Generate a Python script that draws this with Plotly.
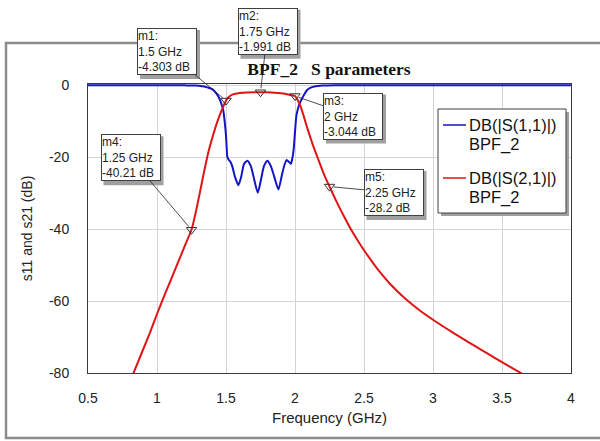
import plotly.graph_objects as go

# ---------------- data ----------------
freq_s11 = [0.5, 0.8, 1.0, 1.2, 1.275, 1.33, 1.37, 1.40, 1.43, 1.45, 1.47, 1.48, 1.49,
            1.50, 1.505, 1.51, 1.52, 1.53, 1.545, 1.565, 1.59, 1.61, 1.63, 1.655,
            1.68, 1.70, 1.73, 1.755, 1.775, 1.80, 1.825, 1.85, 1.88, 1.905, 1.925,
            1.94, 1.955, 1.97, 1.98, 1.99, 2.0, 2.01, 2.02, 2.035, 2.05, 2.07, 2.085,
            2.11, 2.14, 2.2, 2.3, 2.5, 3.0, 3.5, 4.0]
db_s11 = [-0.02, -0.03, -0.05, -0.08, -0.12, -0.35, -0.7, -1.1, -2.3, -3.6, -5.6, -7.0, -10.0,
          -14.0, -17.5, -20.0, -20.8, -21.2, -22.5, -25.5, -27.8, -25.5, -22.0, -21.0,
          -22.5, -25.5, -29.9, -26.0, -22.5, -21.0, -22.5, -25.5, -29.0, -25.0, -22.0,
          -20.8, -21.3, -21.9, -20.5, -18.0, -13.0, -8.5, -6.8, -5.0, -3.8, -2.4, -1.5,
          -0.8, -0.4, -0.15, -0.07, -0.04, -0.03, -0.02, -0.02]

freq_s21 = [0.78, 0.83, 0.90, 0.95, 1.0, 1.05, 1.10, 1.15, 1.20, 1.25, 1.28, 1.31, 1.34,
            1.37, 1.40, 1.43, 1.46, 1.48, 1.50, 1.52, 1.55, 1.60, 1.65, 1.70, 1.75, 1.80,
            1.85, 1.90, 1.95, 2.0, 2.02, 2.04, 2.06, 2.08, 2.10, 2.13, 2.17, 2.21, 2.25,
            2.30, 2.35, 2.40, 2.45, 2.50, 2.55, 2.60, 2.70, 2.80, 2.90, 3.0, 3.1, 3.2, 3.3,
            3.4, 3.5, 3.6, 3.7]
db_s21 = [-84.6, -80.0, -73.4, -68.7, -63.6, -58.8, -54.2, -49.5, -44.8, -40.21, -35.5, -30.0, -24.3,
          -19.0, -14.8, -11.0, -7.8, -6.0, -4.303, -3.3, -2.6, -2.2, -2.05, -2.0, -1.991, -2.02,
          -2.12, -2.3, -2.6, -3.044, -4.2, -5.9, -8.2, -10.8, -13.2, -16.7, -20.8, -24.8, -28.2,
          -32.3, -36.1, -39.7, -42.9, -45.9, -48.6, -51.2, -55.7, -59.4, -62.5, -65.2, -67.7, -70.1, -72.4,
          -74.7, -77.0, -79.2, -81.4]

marker_names = ["m1", "m2", "m3", "m4", "m5"]
marker_freq = [1.5, 1.75, 2.0, 1.25, 2.25]
marker_db = [-4.303, -1.991, -3.044, -40.21, -28.2]
marker_freq_text = ["1.5 GHz", "1.75 GHz", "2 GHz", "1.25 GHz", "2.25 GHz"]
marker_db_text = ["-4.303 dB", "-1.991 dB", "-3.044 dB", "-40.21 dB", "-28.2 dB"]

x_ticks = [0.5, 1, 1.5, 2, 2.5, 3, 3.5, 4]
x_tick_text = ["0.5", "1", "1.5", "2", "2.5", "3", "3.5", "4"]
y_ticks = [0, -20, -40, -60, -80]
y_tick_text = ["0", "-20", "-40", "-60", "-80"]

legend_measure = ["DB(|S(1,1)|)", "DB(|S(2,1)|)"]
legend_circuit = ["BPF_2", "BPF_2"]
title_text = "BPF_2\u00a0\u00a0\u00a0S parameters"
x_title = "Frequency (GHz)"
y_title = "s11 and s21 (dB)"

# ---------------- layout geometry / style ----------------
W, H = 600, 441
ML, MR, MT, MB = 88, 29, 84, 68
X_RANGE = [0.5, 4.0]
Y_RANGE = [-80, 0.3]
PW, PH = W - ML - MR, H - MT - MB

# box-centre offsets of the marker labels from their markers (pixels)
label_dx = [-59, 7, 58, -61, 64]
label_dy = [-49, -61, 20, -72, 6]
BOX_W, BOX_H = 60, 49

# legend box (pixels)
LEG_X0, LEG_X1, LEG_Y0, LEG_Y1 = 438, 566, 109, 213
LEG_ROW_Y = [125, 178]
LEG_LINE_GAP = 19

FONT = "Liberation Sans, Arial, sans-serif"
COLORS = ["#1414c8", "#e01414"]


def px_x(v):
    return ML + (v - X_RANGE[0]) / (X_RANGE[1] - X_RANGE[0]) * PW


def px_y(v):
    return MT + (Y_RANGE[1] - v) / (Y_RANGE[1] - Y_RANGE[0]) * PH


def paper_x(p):
    return (p - ML) / PW


def paper_y(p):
    return (H - MB - p) / PH


fig = go.Figure()
for fx, fy, col, nm in [(freq_s11, db_s11, COLORS[0], legend_measure[0]),
                        (freq_s21, db_s21, COLORS[1], legend_measure[1])]:
    fig.add_trace(go.Scatter(x=fx, y=fy, mode="lines", name=nm, showlegend=False,
                             line=dict(color=col, width=2, shape="spline", smoothing=0.6)))
fig.add_trace(go.Scatter(x=marker_freq, y=marker_db, mode="markers", showlegend=False,
                         marker=dict(symbol="triangle-down-open", size=9,
                                     color="#333333", line=dict(width=1, color="#333333"))))

shapes = [
    # outer grey frame
    dict(type="rect", xref="paper", yref="paper", layer="below",
         x0=paper_x(6), x1=paper_x(615), y0=paper_y(438), y1=paper_y(43),
         line=dict(color="#8c8c8c", width=2.5), fillcolor="rgba(0,0,0,0)"),
]

annotations = []
for i, name in enumerate(marker_names):
    hx, hy = px_x(marker_freq[i]), px_y(marker_db[i])
    cx, cy = hx + label_dx[i], hy + label_dy[i]
    shapes.append(dict(type="rect", xref="paper", yref="paper", layer="above",
                       x0=paper_x(cx - BOX_W / 2 + 3), x1=paper_x(cx + BOX_W / 2 + 3),
                       y0=paper_y(cy + BOX_H / 2 + 3), y1=paper_y(cy - BOX_H / 2 + 3),
                       line=dict(width=0), fillcolor="#a0a0a0"))
    annotations.append(dict(
        x=marker_freq[i], y=marker_db[i], xref="x", yref="y",
        text=f"{name}:<br>{marker_freq_text[i]}<br>{marker_db_text[i]}",
        showarrow=True, arrowhead=0, arrowwidth=0.8, arrowcolor="#222222",
        ax=label_dx[i], ay=label_dy[i], standoff=4,
        align="left", width=BOX_W - 2, borderpad=0, borderwidth=1,
        bordercolor="#404040", bgcolor="white",
        font=dict(family=FONT, size=12, color="#222222")))

# legend: shadow, box, line samples and texts
shapes.append(dict(type="rect", xref="paper", yref="paper", layer="above",
                   x0=paper_x(LEG_X0 + 3), x1=paper_x(LEG_X1 + 3),
                   y0=paper_y(LEG_Y1 + 3), y1=paper_y(LEG_Y0 + 3),
                   line=dict(width=0), fillcolor="#a0a0a0"))
shapes.append(dict(type="rect", xref="paper", yref="paper", layer="above",
                   x0=paper_x(LEG_X0), x1=paper_x(LEG_X1),
                   y0=paper_y(LEG_Y1), y1=paper_y(LEG_Y0),
                   line=dict(width=1, color="#404040"), fillcolor="white"))
for k in range(2):
    ry = LEG_ROW_Y[k]
    shapes.append(dict(type="line", xref="paper", yref="paper", layer="above",
                       x0=paper_x(LEG_X0 + 5), x1=paper_x(LEG_X0 + 28),
                       y0=paper_y(ry), y1=paper_y(ry),
                       line=dict(width=1.5, color=COLORS[k])))
    for j, txt in enumerate([legend_measure[k], legend_circuit[k]]):
        annotations.append(dict(
            x=paper_x(LEG_X0 + 30), y=paper_y(ry + j * LEG_LINE_GAP),
            xref="paper", yref="paper", xanchor="left", yanchor="middle",
            text=txt, showarrow=False, borderpad=0,
            font=dict(family=FONT, size=16.5, color="#111111")))

fig.update_layout(
    width=W, height=H,
    margin=dict(l=ML, r=MR, t=MT, b=MB, pad=0, autoexpand=False),
    paper_bgcolor="white", plot_bgcolor="white",
    font=dict(family=FONT, color="#222222"),
    title=dict(text=title_text, x=paper_x(329), xref="paper", xanchor="center",
               y=1 - 69 / H, yref="container", yanchor="middle",
               font=dict(family="Liberation Serif, Times New Roman, serif", size=17.5,
                         color="#111111", weight="bold")),
    showlegend=False,
    xaxis=dict(range=X_RANGE, tickvals=x_ticks, ticktext=x_tick_text,
               showgrid=True, gridcolor="#d4d4d4", gridwidth=1, zeroline=False,
               showline=True, linecolor="#3a3a3a", linewidth=1, mirror=True,
               ticks="", ticklabelstandoff=12, automargin=True,
               tickfont=dict(family=FONT, size=14, color="#222222"),
               title=dict(text=x_title, standoff=7, font=dict(family=FONT, size=15, color="#222222"))),
    yaxis=dict(range=Y_RANGE, tickvals=y_ticks, ticktext=y_tick_text,
               showgrid=True, gridcolor="#d4d4d4", gridwidth=1, zeroline=False,
               showline=True, linecolor="#3a3a3a", linewidth=1, mirror=True,
               ticks="", ticklabelstandoff=15, automargin=True,
               tickfont=dict(family=FONT, size=14, color="#222222"),
               title=dict(text=y_title, standoff=13, font=dict(family=FONT, size=14, color="#222222"))),
    shapes=shapes,
    annotations=annotations,
)

fig.write_html("out.html")
